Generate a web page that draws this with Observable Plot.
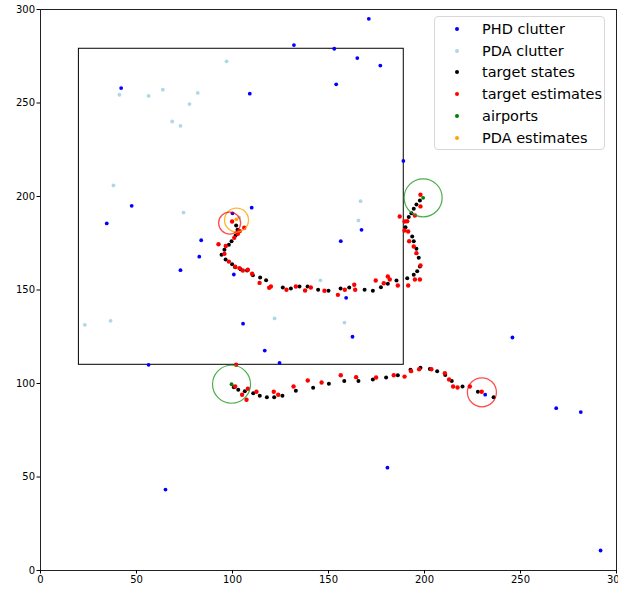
<!DOCTYPE html>
<html>
<head>
<meta charset="utf-8">
<script src="https://cdn.jsdelivr.net/npm/d3@7"></script>
<script src="https://cdn.jsdelivr.net/npm/@observablehq/plot@0.6"></script>
<style>
  body { margin: 0; background: #fff; overflow: hidden; font-family: "DejaVu Sans", sans-serif; }
  #wrap { position: relative; width: 618px; height: 591px; }
  #legend { position: absolute; left: 434px; top: 16px; width: 171px; height: 134px;
    border: 1px solid #d8d8d8; border-radius: 4px; background: rgba(255,255,255,0.85); box-sizing: border-box; }
  .row { position: absolute; left: 0; height: 20px; display: flex; align-items: center; font-size: 14.5px; color: #000; }
  .sw { width: 4px; height: 4px; border-radius: 50%; margin-left: 20px; margin-right: 23px; }
</style>
</head>
<body>
<div id="wrap"><div id="chart"></div><div id="legend"></div></div>
<script>
const ticks = [0, 50, 100, 150, 200, 250, 300];
const regionBox = [{x1: 20, x2: 189.2, y1: 110, y2: 279}];

const phdClutter = [[171,295],[132,281],[153,279],[165,274],[177,270],[154,260],[42,258],[109,255],[189,219],[47.5,195],[110,194],[34.5,185.6],[100,191],[156.4,176.1],[167.2,182.2],[83.7,176.6],[82.7,167.8],[72.9,160.6],[100.7,158.3],[159.2,145.8],[105.5,132],[162.5,125],[116.8,117.6],[124.5,111],[56.3,110],[245.8,124.6],[268.6,86.8],[281.4,84.7],[231.6,94],[180.7,55],[65.1,43.3],[291.7,10.7]];

const pdaClutter = [[96.9,272.3],[41.1,254.4],[56.3,253.8],[63.7,257.1],[81.9,255.4],[77.6,249.4],[68.6,240.1],[72.9,237.8],[38,205.9],[74.5,191.4],[103.5,188.8],[166.7,197.5],[165.6,187.2],[145.8,155.2],[158.3,132.6],[121.9,134.8],[23.1,131.4],[36.5,133.5]];

const statesTrack1 = [[197.6,197.9],[195.8,195.7],[194.4,193.4],[193.2,191.1],[191.8,189],[190.1,183.6],[193.6,178.6],[194.4,176.1],[195.8,172],[197,167.2],[197.6,162.6],[196.2,160],[194.4,158.1],[191,156.3],[185.4,155.1],[180.9,153.3],[177.3,151.5],[173.1,149.6],[168.8,150.1],[160.8,151.3],[156.3,150.8],[150,149.6],[144.6,150.1],[139.1,151.9],[134.9,151.9],[130.4,150.8],[126.2,151.3],[117.5,155.2],[114.4,156.7],[110.6,157.9],[107.6,160.4],[104.2,161.1],[101.4,162.2],[99.8,163.8],[96.4,166.3],[94.3,168.8],[95.8,171.5],[98.1,174.2],[99.5,176.1],[101.6,179.1],[102.6,182.2],[101.9,184.5]];

const statesTrack2 = [[100.7,98],[103,96.6],[106.4,95.9],[110.8,94.8],[114.2,93.4],[117.9,92.7],[121.7,92.7],[126,93.4],[133,96.1],[142,97.7],[150.2,99.8],[158.2,101.4],[165.6,101.4],[173.1,102.1],[180,103.2],[186.1,104.4],[192.7,107.3],[197.9,108.4],[202.8,107.8],[206.6,106.6],[210.8,104.5],[214.2,101.4],[219.8,98.4],[227.8,95.6],[236,92.7]];

const estimatesTrack1 = [[197.9,200.9],[197.9,194.7],[195,189.8],[187.1,189.3],[189.6,186.6],[191,186.8],[189.6,181.8],[191.5,181.3],[192,176.1],[194.4,173.3],[195.8,169.7],[197.9,163.1],[195,155.6],[197.6,155.6],[191.5,152.4],[186.1,152.4],[180.9,157.2],[181.9,155.6],[178.8,153.6],[174.6,155.1],[163.4,152.8],[163.9,150.1],[158.5,150.1],[154.9,147.4],[147.9,149.6],[140.8,151.3],[137.8,149.7],[133,151.9],[128.1,150.1],[120,151.9],[119.1,151.2],[114.1,153.8],[110.2,158.7],[108,160.8],[105.4,160.4],[103.6,161.7],[101.4,162.4],[98.1,165.2],[95.8,169.3],[92.7,174.5],[96.5,173.5],[100.9,177.9],[102.8,180.1],[103.8,181.5],[106.1,183.3],[99.8,186.6]];

const estimatesTrack2 = [[101.9,110],[101.4,98.4],[105,94],[107.3,91.3],[108,97.2],[112.5,95.6],[121.5,95.6],[123.8,94],[131.8,98.4],[139.2,101.6],[146.4,100.5],[156.4,104.4],[164.4,103.4],[174.8,103.2],[184,104.4],[189.6,103.7],[193,106.6],[197.2,107.6],[203.6,107.6],[210.6,105.5],[212.8,102.1],[214.9,98.4],[217.2,97.9],[223.6,98.4],[229.8,95.6]];

const airports = [[99.5,99.6],[199.3,199.3]];
const pdaEstimates = [[102,187.8]];
const pdaCircle = [[102.1,187.4]];
const estimateCircleA = [[98.5,185.8]];
const estimateCircleB = [[229.9,95.3]];

const legendItems = [
  ["PHD clutter", "#0000ff"],
  ["PDA clutter", "#add8e6"],
  ["target states", "#000000"],
  ["target estimates", "#ff0000"],
  ["airports", "#008000"],
  ["PDA estimates", "#ffa500"]
];

const X = d => d[0], Y = d => d[1];

const chart = Plot.plot({
  width: 618, height: 591,
  marginLeft: 40, marginRight: 2, marginTop: 9, marginBottom: 21,
  style: {fontFamily: "DejaVu Sans, sans-serif", fontSize: "10px", color: "#000", background: "#fff"},
  x: {domain: [0, 300]},
  y: {domain: [0, 300]},
  marks: [
    Plot.rect(regionBox, {x1: "x1", x2: "x2", y1: "y1", y2: "y2", fill: "none", stroke: "#000", strokeWidth: 1}),
    Plot.dot(phdClutter, {x: X, y: Y, r: 1.9, fill: "#0000ff"}),
    Plot.dot(pdaClutter, {x: X, y: Y, r: 1.9, fill: "#add8e6"}),
    Plot.dot(statesTrack1.concat(statesTrack2), {x: X, y: Y, r: 2, fill: "#000"}),
    Plot.dot(estimatesTrack1.concat(estimatesTrack2), {x: X, y: Y, r: 2.2, fill: "#ff0000"}),
    Plot.dot(airports, {x: X, y: Y, r: 1.9, fill: "#008000"}),
    Plot.dot(pdaEstimates, {x: X, y: Y, r: 1.9, fill: "#ffa500"}),
    Plot.dot(airports, {x: X, y: Y, r: 19, fill: "none", stroke: "#2ca02c", strokeOpacity: 0.85, strokeWidth: 1.2}),
    Plot.dot(pdaCircle, {x: X, y: Y, r: 12, fill: "none", stroke: "#ffa500", strokeOpacity: 0.8, strokeWidth: 1.3}),
    Plot.dot(estimateCircleA, {x: X, y: Y, r: 11, fill: "none", stroke: "#ff0000", strokeOpacity: 0.7, strokeWidth: 1.3}),
    Plot.dot(estimateCircleB, {x: X, y: Y, r: 14.5, fill: "none", stroke: "#ff0000", strokeOpacity: 0.7, strokeWidth: 1.3}),
    Plot.frame({stroke: "#222"}),
    Plot.axisX({ticks, tickSize: 3.5, tickPadding: 2, label: null}),
    Plot.axisY({ticks, tickSize: 3.5, tickPadding: 2, label: null})
  ]
});
document.getElementById("chart").appendChild(chart);

const lg = document.getElementById("legend");
legendItems.forEach(([name, color], i) => {
  const row = document.createElement("div");
  row.className = "row";
  row.style.top = (2 + i * 21.7) + "px";
  const sw = document.createElement("span");
  sw.className = "sw";
  sw.style.background = color;
  const t = document.createElement("span");
  t.textContent = name;
  row.appendChild(sw); row.appendChild(t);
  lg.appendChild(row);
});
</script>
</body>
</html>
